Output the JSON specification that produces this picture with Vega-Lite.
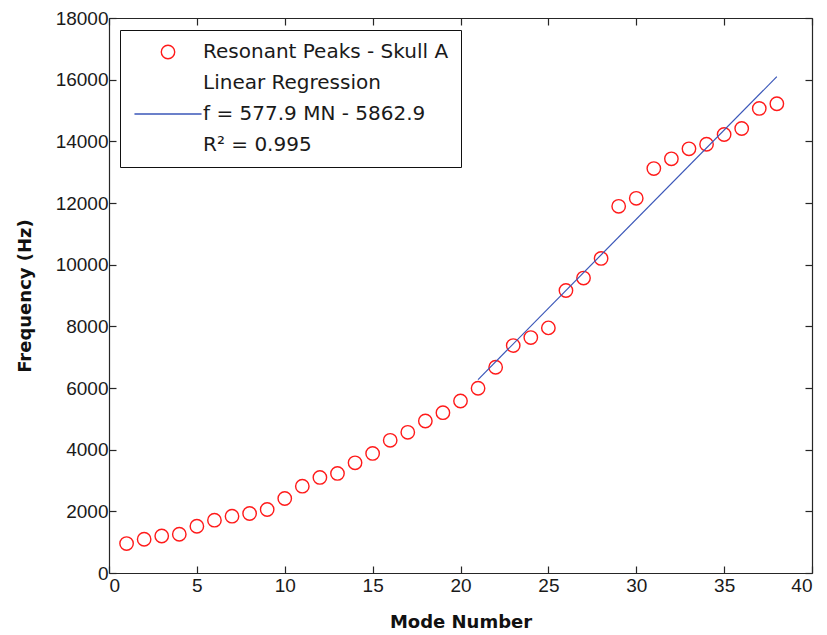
{
  "$schema": "https://vega.github.io/schema/vega-lite/v6.json",
  "width": 703,
  "height": 555,
  "autosize": {"type": "none"},
  "padding": {"left": 109, "top": 18, "right": 15, "bottom": 62},
  "background": "white",
  "config": {
    "view": {"stroke": null},
    "font": "Liberation Sans",
    "axis": {
      "grid": false,
      "domainColor": "#262626",
      "domainWidth": 1.2,
      "tickColor": "#262626",
      "tickWidth": 1.2,
      "tickSize": -7,
      "labelFont": "Liberation Sans",
      "labelFontSize": 19,
      "labelColor": "#1a1a1a",
      "titleFont": "DejaVu Sans",
      "titleFontSize": 18,
      "titleFontWeight": "bold",
      "titleColor": "#111111"
    }
  },
  "data": {
    "values": [
      {"mn": 1, "f": 955, "series": "Resonant Peaks - Skull A"},
      {"mn": 2, "f": 1095, "series": "Resonant Peaks - Skull A"},
      {"mn": 3, "f": 1200, "series": "Resonant Peaks - Skull A"},
      {"mn": 4, "f": 1257, "series": "Resonant Peaks - Skull A"},
      {"mn": 5, "f": 1517, "series": "Resonant Peaks - Skull A"},
      {"mn": 6, "f": 1712, "series": "Resonant Peaks - Skull A"},
      {"mn": 7, "f": 1842, "series": "Resonant Peaks - Skull A"},
      {"mn": 8, "f": 1930, "series": "Resonant Peaks - Skull A"},
      {"mn": 9, "f": 2060, "series": "Resonant Peaks - Skull A"},
      {"mn": 10, "f": 2417, "series": "Resonant Peaks - Skull A"},
      {"mn": 11, "f": 2817, "series": "Resonant Peaks - Skull A"},
      {"mn": 12, "f": 3100, "series": "Resonant Peaks - Skull A"},
      {"mn": 13, "f": 3230, "series": "Resonant Peaks - Skull A"},
      {"mn": 14, "f": 3574, "series": "Resonant Peaks - Skull A"},
      {"mn": 15, "f": 3879, "series": "Resonant Peaks - Skull A"},
      {"mn": 16, "f": 4302, "series": "Resonant Peaks - Skull A"},
      {"mn": 17, "f": 4562, "series": "Resonant Peaks - Skull A"},
      {"mn": 18, "f": 4929, "series": "Resonant Peaks - Skull A"},
      {"mn": 19, "f": 5199, "series": "Resonant Peaks - Skull A"},
      {"mn": 20, "f": 5579, "series": "Resonant Peaks - Skull A"},
      {"mn": 21, "f": 5991, "series": "Resonant Peaks - Skull A"},
      {"mn": 22, "f": 6674, "series": "Resonant Peaks - Skull A"},
      {"mn": 23, "f": 7376, "series": "Resonant Peaks - Skull A"},
      {"mn": 24, "f": 7635, "series": "Resonant Peaks - Skull A"},
      {"mn": 25, "f": 7950, "series": "Resonant Peaks - Skull A"},
      {"mn": 26, "f": 9162, "series": "Resonant Peaks - Skull A"},
      {"mn": 27, "f": 9565, "series": "Resonant Peaks - Skull A"},
      {"mn": 28, "f": 10202, "series": "Resonant Peaks - Skull A"},
      {"mn": 29, "f": 11892, "series": "Resonant Peaks - Skull A"},
      {"mn": 30, "f": 12152, "series": "Resonant Peaks - Skull A"},
      {"mn": 31, "f": 13117, "series": "Resonant Peaks - Skull A"},
      {"mn": 32, "f": 13432, "series": "Resonant Peaks - Skull A"},
      {"mn": 33, "f": 13757, "series": "Resonant Peaks - Skull A"},
      {"mn": 34, "f": 13906, "series": "Resonant Peaks - Skull A"},
      {"mn": 35, "f": 14221, "series": "Resonant Peaks - Skull A"},
      {"mn": 36, "f": 14416, "series": "Resonant Peaks - Skull A"},
      {"mn": 37, "f": 15066, "series": "Resonant Peaks - Skull A"},
      {"mn": 38, "f": 15219, "series": "Resonant Peaks - Skull A"},
      {"mn": 21, "f": 6273, "series": "Linear Regression"},
      {"mn": 38, "f": 16097, "series": "Linear Regression"}
    ]
  },
  "layer": [
    {
      "transform": [{"filter": "datum.series == 'Resonant Peaks - Skull A'"}],
      "mark": {"type": "point", "filled": false, "size": 180, "strokeWidth": 1.4, "opacity": 1},
      "encoding": {
        "x": {"field": "mn", "type": "quantitative", "scale": {"domain": [0, 40], "nice": false, "zero": false},
              "axis": {"orient": "bottom", "values": [0,5,10,15,20,25,30,35,40], "title": "Mode Number", "labelPadding": 10, "titlePadding": 18}},
        "y": {"field": "f", "type": "quantitative", "scale": {"domain": [0, 18000], "nice": false},
              "axis": {"orient": "left", "format": "d", "values": [0,2000,4000,6000,8000,10000,12000,14000,16000,18000], "title": "Frequency (Hz)", "labelPadding": 8, "titlePadding": 21}},
        "color": {
          "field": "series", "type": "nominal",
          "scale": {"domain": ["Resonant Peaks - Skull A", "Linear Regression label", "Linear Regression", "R2 label"], "range": ["#ff1a1a", "transparent", "#3a56b8", "transparent"]},
          "legend": {
            "orient": "none", "legendX": 11, "legendY": 12,
            "title": null,
            "strokeColor": "#111111",
            "fillColor": "white",
            "padding": 12,
            "labelFont": "DejaVu Sans",
            "labelFontSize": 20,
            "labelColor": "#1a1a1a",
            "labelOffset": 25,
            "symbolOffset": 26,
            "labelLimit": 400,
            "rowPadding": 11,
            "symbolSize": 180,
            "symbolStrokeWidth": 1.4,
            "labelExpr": "datum.value == 'Linear Regression label' ? 'Linear Regression' : datum.value == 'Linear Regression' ? 'f = 577.9 MN - 5862.9' : datum.value == 'R2 label' ? 'R² = 0.995' : datum.value"
          }
        },
        "shape": {
          "field": "series", "type": "nominal",
          "scale": {"domain": ["Resonant Peaks - Skull A", "Linear Regression label", "Linear Regression", "R2 label"], "range": ["circle", "circle", "M-5,0H5", "circle"]},
          "legend": {
            "orient": "none", "legendX": 11, "legendY": 12,
            "title": null,
            "labelExpr": "datum.value == 'Linear Regression label' ? 'Linear Regression' : datum.value == 'Linear Regression' ? 'f = 577.9 MN - 5862.9' : datum.value == 'R2 label' ? 'R² = 0.995' : datum.value"
          }
        }
      }
    },
    {
      "transform": [{"filter": "datum.series == 'Linear Regression'"}],
      "mark": {"type": "line", "strokeWidth": 1.2},
      "encoding": {
        "x": {"field": "mn", "type": "quantitative", "axis": {"orient": "top", "values": [0,5,10,15,20,25,30,35,40], "labels": false, "title": null}},
        "y": {"field": "f", "type": "quantitative", "axis": {"orient": "right", "values": [0,2000,4000,6000,8000,10000,12000,14000,16000,18000], "labels": false, "title": null}},
        "color": {"field": "series", "type": "nominal", "legend": null}
      }
    }
  ],
  "resolve": {"axis": {"x": "independent", "y": "independent"}}
}
